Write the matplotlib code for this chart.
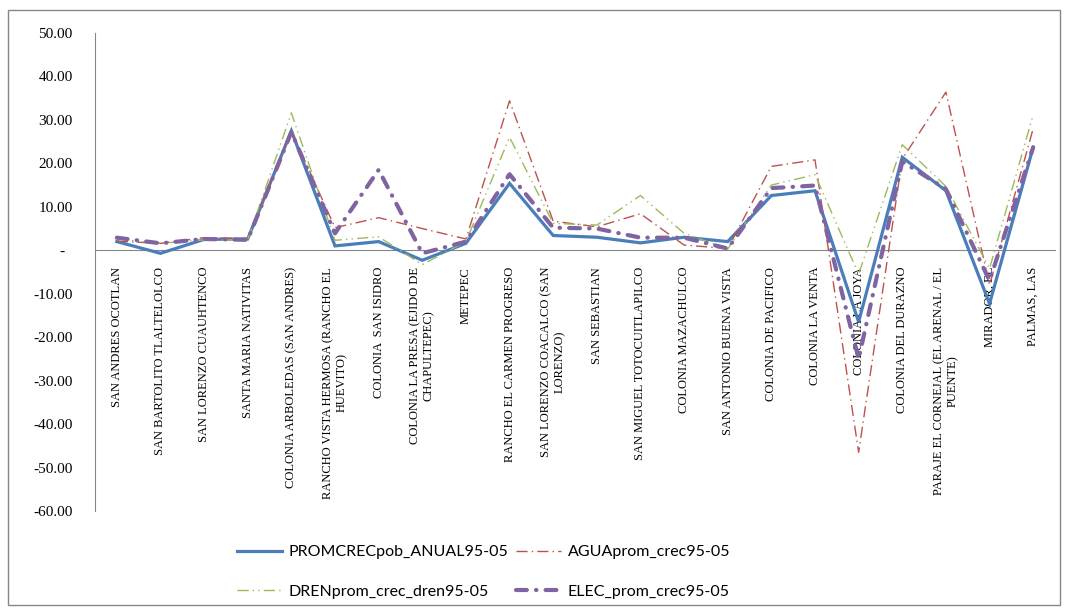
import numpy as np
import matplotlib.pyplot as plt
from matplotlib.patches import Rectangle

# localidades (eje x)
localidades = [
    "SAN ANDRES OCOTLAN",
    "SAN BARTOLITO TLALTELOLCO",
    "SAN LORENZO CUAUHTENCO",
    "SANTA MARIA NATIVITAS",
    "COLONIA ARBOLEDAS (SAN ANDRES)",
    "RANCHO VISTA HERMOSA (RANCHO EL\nHUEVITO)",
    "COLONIA  SAN ISIDRO",
    "COLONIA LA PRESA (EJIDO DE\nCHAPULTEPEC)",
    "METEPEC",
    "RANCHO EL CARMEN PROGRESO",
    "SAN LORENZO COACALCO (SAN\nLORENZO)",
    "SAN SEBASTIAN",
    "SAN MIGUEL TOTOCUITLAPILCO",
    "COLONIA MAZACHULCO",
    "SAN ANTONIO BUENA VISTA",
    "COLONIA DE PACIFICO",
    "COLONIA LA VENTA",
    "COLONIA LA JOYA",
    "COLONIA DEL DURAZNO",
    "PARAJE EL CORNEJAL (EL ARENAL / EL\nPUENTE)",
    "MIRADOR, EL",
    "PALMAS, LAS",
]

pob = [2.0, -0.7, 2.5, 2.6, 27.5, 1.0, 2.0, -2.3, 1.6, 15.4, 3.4,
       3.0, 1.7, 3.0, 2.0, 12.6, 13.7, -16.5, 21.4, 13.7, -12.3, 23.7]
agua = [2.1, 1.6, 2.9, 2.7, 27.5, 5.2, 7.5, 5.0, 2.6, 34.4, 6.7,
        5.4, 8.4, 1.2, 0.4, 19.3, 20.8, -46.5, 21.0, 36.4, -8.0, 28.0]
dren = [2.6, 1.6, 2.4, 2.4, 31.6, 2.3, 3.1, -3.3, 2.0, 26.0, 6.2,
        5.8, 12.6, 3.9, 0.3, 15.0, 17.4, -5.5, 24.3, 14.7, -4.2, 31.2]
elec = [2.9, 1.6, 2.6, 2.4, 27.2, 3.9, 18.5, -0.7, 2.0, 17.5, 5.2,
        5.0, 2.9, 2.9, 0.4, 14.3, 14.9, -25.0, 20.4, 14.1, -7.0, 23.7]

series_names = ["PROMCRECpob_ANUAL95-05", "AGUAprom_crec95-05",
                "DRENprom_crec_dren95-05", "ELEC_prom_crec95-05"]

y_ticks = [50, 40, 30, 20, 10, 0, -10, -20, -30, -40, -50, -60]
y_labels = ["50.00", "40.00", "30.00", "20.00", "10.00", "-  ",
            "-10.00", "-20.00", "-30.00", "-40.00", "-50.00", "-60.00"]

W, H = 1065, 610
fig = plt.figure(figsize=(W / 100, H / 100), dpi=100)
ax = fig.add_axes([95 / W, 1 - 511 / H, (1055 - 95) / W, (511 - 33) / H])

x = np.arange(len(localidades))

l1, = ax.plot(x, pob, color="#4A7EBB", lw=2.3, solid_joinstyle="miter", zorder=3)
l2, = ax.plot(x, agua, color="#C0504D", lw=1.0, linestyle=(0, (8, 3, 1, 3)), zorder=3)
l3, = ax.plot(x, dren, color="#9BBB59", lw=1.0, linestyle=(0, (8, 3, 1, 3, 1, 3)), zorder=3)
l4, = ax.plot(x, elec, color="#8064A2", lw=3.0, linestyle=(0, (2.6, 2.2, 0.1, 2.2)),
              dash_capstyle="round", zorder=3)

ax.set_xlim(-0.5, len(localidades) - 0.5)
ax.set_ylim(-60, 50)

for s in ["top", "right"]:
    ax.spines[s].set_visible(False)
ax.spines["left"].set_color("#868686")
ax.spines["bottom"].set_color("#868686")
ax.spines["bottom"].set_position(("data", 0))

ax.set_yticks(y_ticks)
ax.set_yticklabels(y_labels, fontfamily="Liberation Serif", fontsize=11)
ax.tick_params(axis="y", length=0, pad=16)

ax.set_xticks(x)
ax.set_xticklabels(localidades, rotation=90, fontfamily="Liberation Serif",
                   fontsize=9, multialignment="center")
ax.tick_params(axis="x", length=0, pad=12)

# legend filled row by row, as in the original
fig.legend([l1, l3, l2, l4],
           [series_names[0], series_names[2], series_names[1], series_names[3]],
           loc="upper left", bbox_to_anchor=(237 / W, 1 - 545 / H), ncol=2,
           frameon=False, prop={"family": "Lato", "size": 11.5},
           borderpad=0, borderaxespad=0, handlelength=2.8, handletextpad=0.45,
           columnspacing=0.45, labelspacing=1.6)

fig.patches.append(Rectangle((8 / W, 1 - 605 / H), (1060 - 8) / W, (605 - 10) / H,
                             transform=fig.transFigure, fill=False,
                             edgecolor="#868686", lw=1.0))

fig.savefig("out.png", dpi=100)
